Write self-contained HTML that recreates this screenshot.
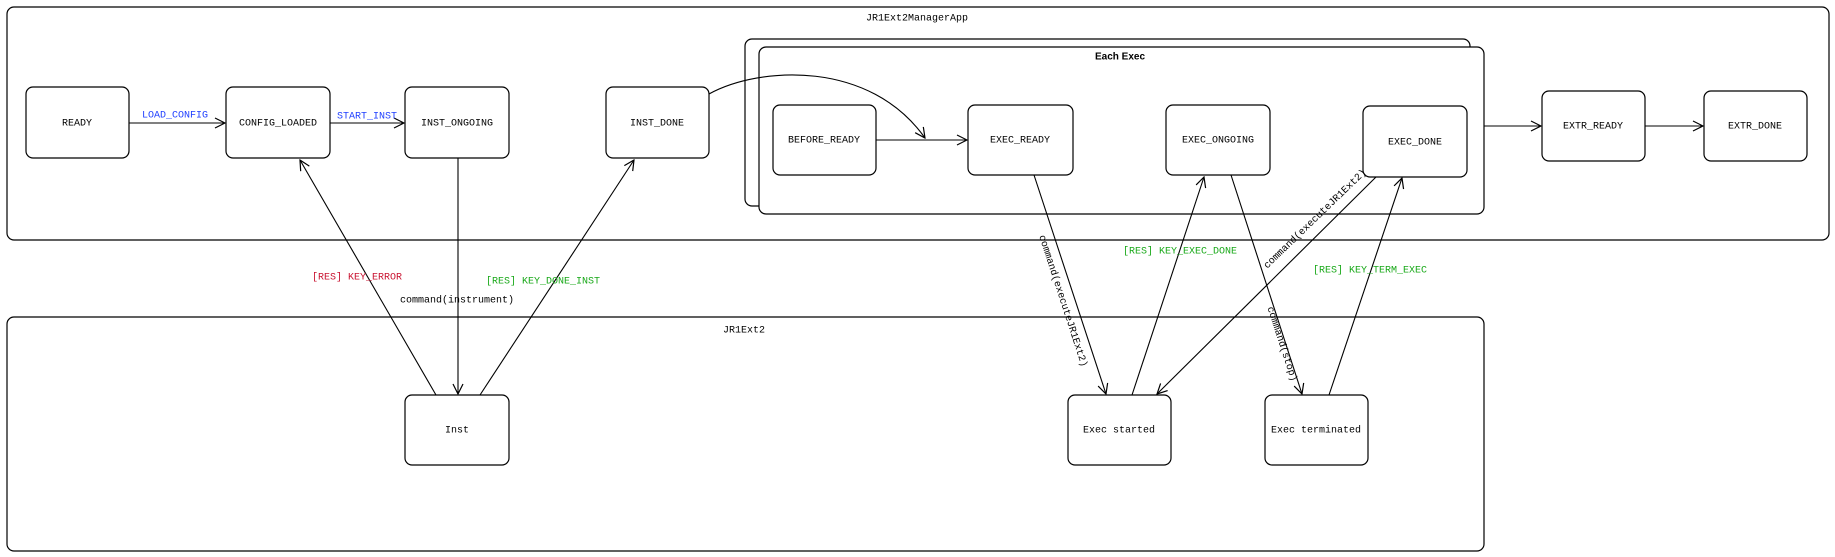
<!DOCTYPE html>
<html><head><meta charset="utf-8"><style>html,body{margin:0;padding:0;background:#fff}svg{display:block}</style></head>
<body>
<svg width="1835" height="557" viewBox="0 0 1835 557" xmlns="http://www.w3.org/2000/svg" font-family="Liberation Mono, monospace" font-size="10">
<defs>
<marker id="a" viewBox="0 0 12 12" refX="11" refY="6" markerWidth="12" markerHeight="12" markerUnits="userSpaceOnUse" orient="auto">
<path d="M1,1 L11,6 L1,11" fill="none" stroke="#000" stroke-width="1.2"/></marker>
</defs>
<g fill="#fff" stroke="#000" stroke-width="1.2">
<rect x="7" y="7" width="1822" height="233" rx="7"/>
<rect x="7" y="317" width="1477" height="234" rx="7"/>
<rect x="745" y="39" width="725" height="167" rx="7"/>
<rect x="759" y="47" width="725" height="167" rx="7"/>
<rect x="26" y="87" width="103" height="71" rx="7"/>
<rect x="226" y="87" width="104" height="71" rx="7"/>
<rect x="405" y="87" width="104" height="71" rx="7"/>
<rect x="606" y="87" width="103" height="71" rx="7"/>
<rect x="773" y="105" width="103" height="70" rx="7"/>
<rect x="968" y="105" width="105" height="70" rx="7"/>
<rect x="1166" y="105" width="104" height="70" rx="7"/>
<rect x="1363" y="106" width="104" height="71" rx="7"/>
<rect x="1542" y="91" width="103" height="70" rx="7"/>
<rect x="1704" y="91" width="103" height="70" rx="7"/>
<rect x="405" y="395" width="104" height="70" rx="7"/>
<rect x="1068" y="395" width="103" height="70" rx="7"/>
<rect x="1265" y="395" width="103" height="70" rx="7"/>
</g>
<g fill="none" stroke="#000" stroke-width="1.1" marker-end="url(#a)">
<line x1="129" y1="123" x2="225" y2="123"/>
<line x1="330" y1="123" x2="404" y2="123"/>
<path d="M709,94 C760,66 870,60 925,138"/>
<line x1="876" y1="140" x2="967" y2="140"/>
<line x1="458" y1="158" x2="458" y2="394"/>
<line x1="436" y1="395" x2="300" y2="160"/>
<line x1="480" y1="395" x2="634" y2="160"/>
<line x1="1034" y1="175" x2="1106" y2="394"/>
<line x1="1132" y1="395" x2="1204" y2="177"/>
<line x1="1231" y1="175" x2="1302" y2="394"/>
<line x1="1376" y1="177" x2="1157" y2="394"/>
<line x1="1329" y1="395" x2="1402" y2="178"/>
<line x1="1484" y1="126" x2="1541" y2="126"/>
<line x1="1645" y1="126" x2="1703" y2="126"/>
</g>
<g text-anchor="middle" dominant-baseline="middle" fill="#000">
<text x="917" y="18">JR1Ext2ManagerApp</text>
<text x="744" y="330">JR1Ext2</text>
<text x="1120" y="57" font-family="Liberation Sans, sans-serif" font-weight="bold" font-size="10">Each Exec</text>
<text x="77" y="123">READY</text>
<text x="278" y="123">CONFIG_LOADED</text>
<text x="457" y="123">INST_ONGOING</text>
<text x="657" y="123">INST_DONE</text>
<text x="824" y="140">BEFORE_READY</text>
<text x="1020" y="140">EXEC_READY</text>
<text x="1218" y="140">EXEC_ONGOING</text>
<text x="1415" y="142">EXEC_DONE</text>
<text x="1593" y="126">EXTR_READY</text>
<text x="1755" y="126">EXTR_DONE</text>
<text x="457" y="430">Inst</text>
<text x="1119" y="430">Exec started</text>
<text x="1316" y="430">Exec terminated</text>
<text x="175" y="115" fill="#1f3fff">LOAD_CONFIG</text>
<text x="367" y="116" fill="#1f3fff">START_INST</text>
<text x="357" y="277" fill="#c8102e">[RES] KEY_ERROR</text>
<text x="543" y="281" fill="#18a818">[RES] KEY_DONE_INST</text>
<text x="457" y="300">command(instrument)</text>
<text x="1180" y="251" fill="#18a818">[RES] KEY_EXEC_DONE</text>
<text x="1370" y="270" fill="#18a818">[RES] KEY_TERM_EXEC</text>
<text transform="translate(1063,301) rotate(72)">command(executeJR1Ext2)</text>
<text transform="translate(1282,344) rotate(72)">command(stop)</text>
<text transform="translate(1315,219) rotate(-44)">command(executeJR1Ext2)</text>
</g>
</svg>
</body></html>
